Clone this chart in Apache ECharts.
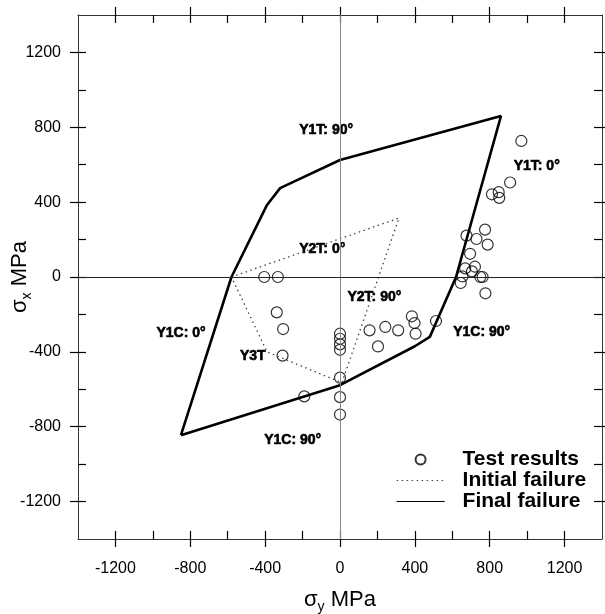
<!DOCTYPE html>
<html>
<head>
<meta charset="utf-8">
<script src="https://cdn.jsdelivr.net/npm/echarts@6/dist/echarts.min.js"></script>
<style>
  html, body { margin: 0; padding: 0; background: #fff; }
  #chart { width: 605px; height: 614px; }
</style>
</head>
<body>
<div id="chart"></div>
<script>
// Failure envelopes in the sigma_y / sigma_x stress plane (MPa)
const finalSigmaY = [-850, -580, -390, -320, 0, 860, 620, 480, 400, 0, -850];
const finalSigmaX = [-845, 0, 385, 475, 625, 860, 0, -320, -370, -578, -845];

const initialSigmaY = [-580, 315, 10, -390, -580];
const initialSigmaX = [0, 315, -565, -400, 0];

// Measured failure stresses
const testSigmaY = [
  969, 909, 812, 848, 851, 775, 676, 729, 789, 695, 721, 669, 705, 654, 750, 762, 645, 777,
  513, 384, 398, 404, 311, 242, 158, 203,
  0, 0, 0, 0, 0, 0, 0,
  -191, -307, -304, -338, -405, -332
];
const testSigmaX = [
  727, 505, 442, 453, 423, 253, 221, 203, 173, 124, 55, 46, 30, 3, 0, 0, -32, -87,
  -235, -210, -246, -303, -285, -267, -285, -371,
  -303, -330, -360, -389, -538, -642, -735,
  -638, -420, -278, -189, 0, 0
];

// Mode annotations: text, sigma_y, sigma_x (left edge of the text)
const noteText = ['Y1T: 90°', 'Y1T: 0°', 'Y2T: 0°', 'Y2T: 90°', 'Y1C: 0°', 'Y3T', 'Y1C: 90°', 'Y1C: 90°'];
const noteSigmaY = [-218, 928, -218, 40, -981, -535, 605, -405];
const noteSigmaX = [785, 594, 148, -107, -300, -424, -294, -873];

const majorTicks = [-1200, -800, -400, 0, 400, 800, 1200];
const allTicks = [-1200, -1000, -800, -600, -400, -200, 0, 200, 400, 600, 800, 1000, 1200];

const pairs = (a, b) => a.map((v, i) => [v, b[i]]);
const FONT = 'Arial, "Liberation Sans", Helvetica, sans-serif';

const axisNameRich = {
  s: { fontSize: 22, fontFamily: FONT, color: '#000', lineHeight: 28 },
  sub: { fontSize: 14, fontFamily: FONT, color: '#000', lineHeight: 14, verticalAlign: 'bottom' }
};

function outerAxis(pos, withLabels, name) {
  const horizontal = pos === 'bottom' || pos === 'top';
  const ax = {
    type: 'value', position: pos, min: -1400, max: 1400,
    axisLine: { show: true, onZero: false, lineStyle: { color: '#333', width: 1 } },
    axisTick: { show: true, inside: false, length: 8, customValues: majorTicks, lineStyle: { color: '#000', width: 1.2 } },
    axisLabel: withLabels
      ? { show: true, customValues: majorTicks, formatter: v => String(v), fontSize: 16, fontFamily: FONT, color: '#000', margin: horizontal ? 22 : 17 }
      : { show: false },
    splitLine: { show: false }
  };
  if (name) {
    ax.name = name;
    ax.nameLocation = 'middle';
    ax.nameMoveOverlap = false;
    ax.nameTextStyle = { rich: axisNameRich };
    ax.nameGap = horizontal ? 47 : 44;
  }
  return ax;
}
function innerAxis(pos) {
  return {
    type: 'value', position: pos, min: -1400, max: 1400,
    axisLine: { show: false, onZero: false },
    axisTick: { show: true, inside: true, length: 8, customValues: allTicks, lineStyle: { color: '#000', width: 1.2 } },
    axisLabel: { show: false },
    splitLine: { show: false }
  };
}

const chart = echarts.init(document.getElementById('chart'), null, { renderer: 'canvas' });

chart.setOption({
  backgroundColor: '#fff',
  animation: false,
  grid: { left: 78, right: 3, top: 15, bottom: 75, containLabel: false, outerBoundsMode: 'none' },
  xAxis: [
    outerAxis('bottom', true, '{s|σ}{sub|y}{s| MPa}'),
    innerAxis('bottom'),
    outerAxis('top', false),
    innerAxis('top')
  ],
  yAxis: [
    outerAxis('left', true, '{s|σ}{sub|x}{s| MPa}'),
    innerAxis('left'),
    outerAxis('right', false),
    innerAxis('right')
  ],
  legend: {
    orient: 'vertical',
    left: 396, top: 449,
    padding: 0,
    itemGap: 0,
    itemWidth: 48,
    itemHeight: 10,
    textStyle: { fontSize: 21, fontWeight: 'bold', fontFamily: FONT, color: '#000', lineHeight: 21, padding: [0, 0, 0, 13] },
    data: [
      { name: 'Test results', icon: 'circle' },
      { name: 'Initial failure', lineStyle: { width: 1.2 }, itemStyle: { color: 'rgba(0,0,0,0)', borderWidth: 0 } },
      { name: 'Final failure', lineStyle: { width: 1 }, itemStyle: { color: 'rgba(0,0,0,0)', borderWidth: 0 } }
    ]
  },
  series: [
    {
      name: 'Mode labels',
      type: 'scatter',
      xAxisIndex: 0, yAxisIndex: 0,
      symbolSize: 0,
      silent: true,
      itemStyle: { opacity: 1 },
      data: noteText.map((t, i) => [noteSigmaY[i], noteSigmaX[i], t]),
      label: {
        show: true, position: 'right', distance: 0,
        formatter: p => p.value[2],
        fontSize: 14, fontWeight: 'bold', fontFamily: FONT, color: '#000', opacity: 1,
        textBorderColor: '#000', textBorderWidth: 0.6
      },
      markLine: {
        silent: true,
        symbol: ['none', 'none'],
        label: { show: false },
        data: [
          { xAxis: 0, lineStyle: { color: '#888', width: 1, type: 'solid' } },
          { yAxis: 0, lineStyle: { color: '#222', width: 1, type: 'solid' } }
        ]
      }
    },
    {
      name: 'Initial failure',
      type: 'line',
      xAxisIndex: 0, yAxisIndex: 0,
      data: pairs(initialSigmaY, initialSigmaX),
      symbol: 'none',
      lineStyle: { color: '#444', width: 1.3, type: [1.5, 3.5] },
      itemStyle: { color: '#444' }
    },
    {
      name: 'Final failure',
      type: 'line',
      xAxisIndex: 0, yAxisIndex: 0,
      data: pairs(finalSigmaY, finalSigmaX),
      symbol: 'none',
      lineStyle: { color: '#000', width: 2.6 },
      itemStyle: { color: '#000' }
    },
    {
      name: 'Test results',
      type: 'scatter',
      xAxisIndex: 0, yAxisIndex: 0,
      data: pairs(testSigmaY, testSigmaX),
      symbol: 'circle',
      symbolSize: 11,
      itemStyle: { color: 'rgba(0,0,0,0)', borderColor: '#000', borderWidth: 1.2 }
    }
  ]
});
</script>
</body>
</html>
